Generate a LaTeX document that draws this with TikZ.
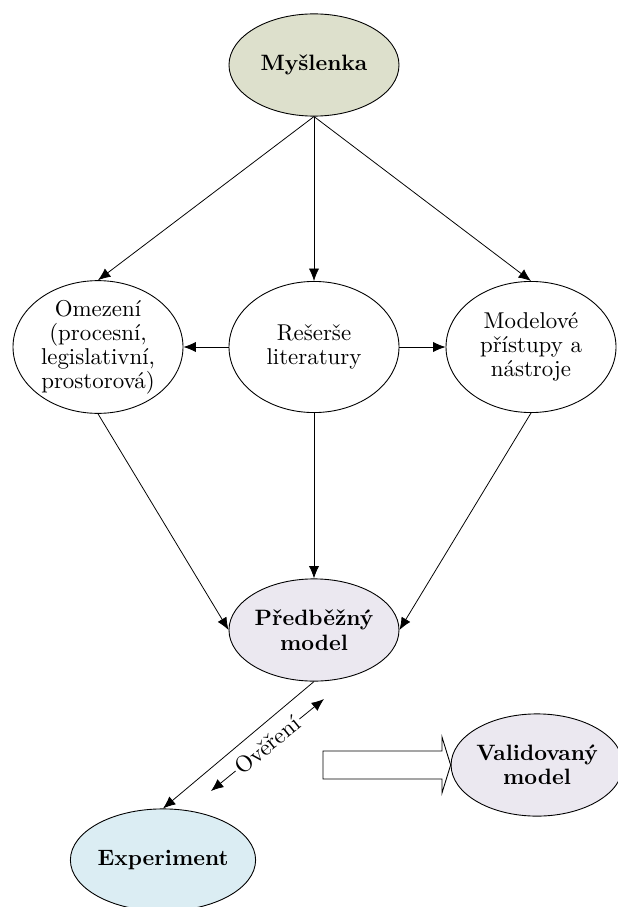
\documentclass[tikz,border=0pt]{standalone}
\usepackage{fontspec}
\usetikzlibrary{shapes.geometric, arrows.meta}

\definecolor{ideafill}{RGB}{221,224,204}
\definecolor{modelfill}{RGB}{235,232,240}
\definecolor{expfill}{RGB}{219,237,243}

\tikzset{
  >={Latex[length=5.6pt,width=4.6pt]},
  bubble/.style={ellipse, draw, line width=0.4pt, inner sep=0pt,
    minimum width=76.5pt, minimum height=59pt, align=center,
    font=\fontsize{10.3}{10.8}\selectfont},
  keybubble/.style={bubble, minimum height=46pt, font=\fontsize{10}{11}\selectfont\bfseries},
  flow/.style={->, line width=0.35pt}
}

\begin{document}
\begin{tikzpicture}[x=0.45pt,y=-0.45pt]
\useasboundingbox (0,0) rectangle (617,907);

% ellipses
\node[keybubble, fill=ideafill] (myslenka) at (314,65) {Myšlenka};
\node[bubble] (omezeni) at (98,347) {Omezení\\(procesní,\\legislativní,\\prostorová)};
\node[bubble] (reserse) at (314,347) {Rešerše\\literatury};
\node[bubble] (pristupy) at (531,347) {Modelové\\přístupy a\\nástroje};
\node[keybubble, fill=modelfill] (predbezny) at (314,630) {Předběžný\\model};
\node[keybubble, fill=expfill] (experiment) at (163,860) {Experiment};
\node[keybubble, fill=modelfill, minimum width=72pt] (validovany) at (537,765) {Validovaný\\model};

% arrows
\draw[flow] (myslenka.south) -- (omezeni.north);
\draw[flow] (myslenka.south) -- (reserse.north);
\draw[flow] (myslenka.south) -- (pristupy.north);
\draw[flow] (reserse.west) -- (omezeni.east);
\draw[flow] (reserse.east) -- (pristupy.west);
\draw[flow] (omezeni.south) -- (predbezny.west);
\draw[flow] (reserse.south) -- (predbezny.north);
\draw[flow] (pristupy.south) -- (predbezny.east);
\draw[flow] (predbezny.south) -- (experiment.north);

% verification
\coordinate (ov1) at (211,791);
\coordinate (ov2) at (324,699);
\draw[<->, line width=0.35pt]
  (ov1) -- node[sloped, fill=white, inner sep=1pt, font=\fontsize{10.3}{11}\selectfont] {Ověření} (ov2);

% block arrow
\draw[line width=0.4pt, fill=white] (323,751) -- (442,751) -- (442,737) -- (validovany.west)
  -- (442,793) -- (442,779) -- (323,779) -- cycle;
\end{tikzpicture}
\end{document}
